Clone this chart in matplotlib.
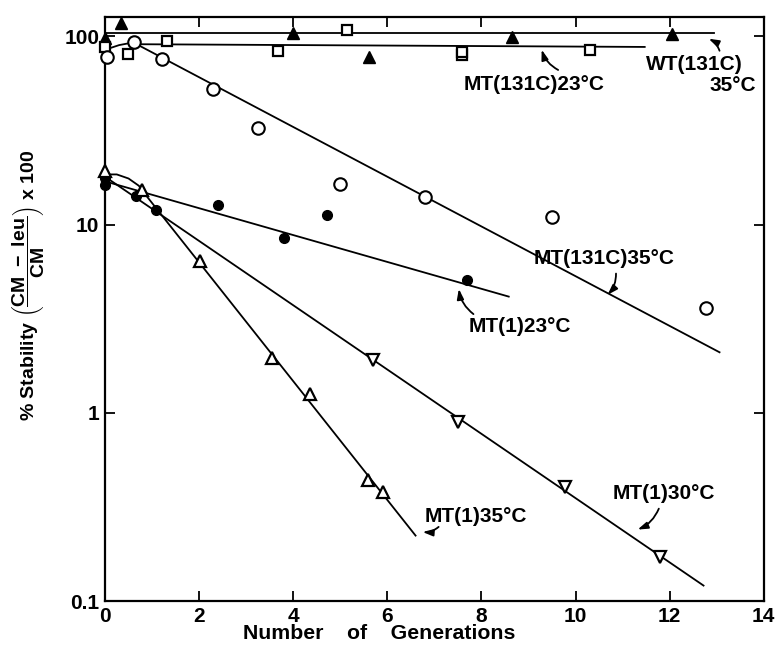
import matplotlib
matplotlib.use("Agg")
import matplotlib.pyplot as plt
import numpy as np

plt.rcParams['font.family'] = ['Liberation Sans', 'DejaVu Sans']
plt.rcParams['font.weight'] = 'bold'
plt.rcParams['mathtext.fontset'] = 'custom'
plt.rcParams['mathtext.rm'] = 'Liberation Sans:bold'
plt.rcParams['mathtext.it'] = 'Liberation Sans:bold'
plt.rcParams['mathtext.bf'] = 'Liberation Sans:bold'

# ---- data ----
wt_x = [0.0, 0.35, 4.0, 5.62, 8.64, 12.04]
wt_y = [98, 118, 104, 78, 99, 103]
wt_fit_x = [0.0, 12.94]
wt_fit_y = [104, 104]

mt131_23_x = [0.0, 0.49, 1.31, 3.68, 5.14, 7.58, 7.58, 10.3]
mt131_23_y = [88, 81, 95, 84, 108, 80, 83, 84.6]
mt131_23_fit_x = [0.6, 11.47]
mt131_23_fit_y = [91, 88]

mt131_35_x = [0.04, 0.61, 1.21, 2.30, 3.26, 4.99, 6.8, 9.5, 12.78]
mt131_35_y = [78, 93, 75.5, 52.6, 32.6, 16.4, 14, 11, 3.6]
mt131_35_fit_x = [0.0, 0.3, 0.6, 13.06]
mt131_35_fit_y = [85, 90, 93, 2.1]

mt1_23_x = [0.0, 0.0, 0.65, 1.09, 2.40, 3.80, 4.71, 7.69]
mt1_23_y = [17.7, 16.3, 14.2, 12.0, 12.7, 8.55, 11.2, 5.1]
mt1_23_fit_x = [0.0, 8.58]
mt1_23_fit_y = [17.0, 4.15]

mt1_35_x = [0.0, 0.78, 2.02, 3.55, 4.35, 5.59, 5.91]
mt1_35_y = [19.2, 15.3, 6.43, 1.96, 1.26, 0.441, 0.382]
mt1_35_fit_x = [0.0, 0.25, 0.5, 0.72, 0.78, 6.60]
mt1_35_fit_y = [18.5, 18.5, 17.6, 16.1, 15.3, 0.223]

mt1_30_x = [5.69, 7.50, 9.77, 11.80]
mt1_30_y = [1.90, 0.89, 0.403, 0.171]
mt1_30_fit_x = [0.0, 12.72]
mt1_30_fit_y = [18.0, 0.121]

x_ticks = [0, 2, 4, 6, 8, 10, 12, 14]
y_ticks = [0.1, 1, 10, 100]
y_tick_labels = ['0.1', '1', '10', '100']

# label texts, text positions, arrow tails and heads (data coords)
labels = [
    ("WT(131C)", (12.53, 71), None, None),
    ("35°C", (13.35, 55.2), None, None),
    ("MT(131C)23°C", (9.12, 55.5), (9.63, 66.4), (9.28, 85.1)),
    ("MT(131C)35°C", (10.6, 6.6), (10.86, 5.5), (10.68, 4.24)),
    ("MT(1)23°C", (8.82, 2.87), (7.83, 3.35), (7.52, 4.56)),
    ("MT(1)30°C", (11.88, 0.372), (11.77, 0.31), (11.32, 0.240)),
    ("MT(1)35°C", (7.88, 0.282), (7.09, 0.248), (6.75, 0.233)),
]
wt_arrow = ((13.06, 84), (12.83, 97.3))

# ---- figure ----
fig = plt.figure(figsize=(7.75, 6.52), dpi=100)
ax = fig.add_axes([0.1355, 0.078, 0.8500, 0.896])
ax.set_yscale('log')
ax.set_xlim(0, 14)
ax.set_ylim(0.1, 127)

lw = 1.3
k = 'black'
ax.plot(wt_fit_x, wt_fit_y, color=k, lw=lw, clip_on=False)
ax.plot(mt131_23_fit_x, mt131_23_fit_y, color=k, lw=lw)
ax.plot(mt131_35_fit_x, mt131_35_fit_y, color=k, lw=lw)
ax.plot(mt1_23_fit_x, mt1_23_fit_y, color=k, lw=lw)
ax.plot(mt1_35_fit_x, mt1_35_fit_y, color=k, lw=lw)
ax.plot(mt1_30_fit_x, mt1_30_fit_y, color=k, lw=lw)

mkw = dict(linestyle='none', clip_on=False, zorder=5)
ax.plot(wt_x, wt_y, marker='^', ms=8.5, color=k, mfc=k, **mkw)
ax.plot(mt131_23_x, mt131_23_y, marker='s', ms=7, color=k, mfc='white', mew=1.6, **mkw)
ax.plot(mt131_35_x, mt131_35_y, marker='o', ms=9, color=k, mfc='white', mew=1.5, **mkw)
ax.plot(mt1_23_x, mt1_23_y, marker='o', ms=7, color=k, mfc=k, **mkw)
ax.plot(mt1_35_x, mt1_35_y, marker='^', ms=8.5, color=k, mfc='white', mew=1.6, **mkw)
ax.plot(mt1_30_x, mt1_30_y, marker='v', ms=8.5, color=k, mfc='white', mew=1.6, **mkw)

fs = 15
for text, pos, tail, head in labels:
    ax.text(pos[0], pos[1], text, ha='center', va='center', fontsize=fs,
            fontweight='bold')
    if tail is not None:
        ax.annotate('', xy=head, xytext=tail,
                    arrowprops=dict(arrowstyle='-|>,head_length=0.6,head_width=0.2',
                                    color=k, lw=1.3,
                                    connectionstyle='arc3,rad=-0.2',
                                    shrinkA=0, shrinkB=0))
ax.annotate('', xy=wt_arrow[1], xytext=wt_arrow[0],
            arrowprops=dict(arrowstyle='-|>,head_length=0.6,head_width=0.2',
                            color=k, lw=1.3, connectionstyle='arc3,rad=0.2',
                            shrinkA=0, shrinkB=0))

ax.set_xticks(x_ticks)
ax.set_xticklabels([str(t) for t in x_ticks])
ax.set_yticks(y_ticks)
ax.set_yticklabels(y_tick_labels)
ax.yaxis.set_minor_locator(matplotlib.ticker.NullLocator())
ax.tick_params(axis='both', which='major', direction='in', length=7, width=1.3,
               labelsize=15, top=True, right=True, pad=4)
for lab in ax.get_xticklabels() + ax.get_yticklabels():
    lab.set_fontweight('bold')
for s in ax.spines.values():
    s.set_linewidth(1.6)

ax.set_xlabel('Number    of    Generations', fontsize=15.3, fontweight='bold')
ax.xaxis.label.set_va('center')
ax.xaxis.set_label_coords(0.416, -0.055)
ax.set_ylabel(r'% Stability $\left(\dfrac{\mathrm{CM\ -\ leu}}{\mathrm{CM}}\right)$ x 100',
              fontsize=14, fontweight='bold')
ax.yaxis.label.set_va('center')
ax.yaxis.set_label_coords(-0.116, 0.541)

fig.savefig('out.png', dpi=100)
